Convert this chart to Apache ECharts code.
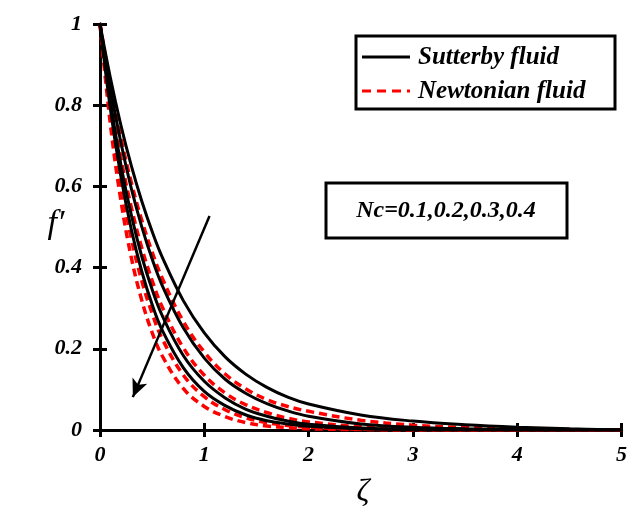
<!DOCTYPE html>
<html><head><meta charset="utf-8">
<script src="https://cdn.jsdelivr.net/npm/echarts@6/dist/echarts.min.js"></script>
<style>html,body{margin:0;padding:0;background:#fff}#c{width:630px;height:522px}</style>
</head><body><div id="c"></div>
<script>
const zeta = [0,0.1,0.2,0.3,0.4,0.5,0.6,0.8,1.0,1.2,1.4,1.6,1.8,2.0,2.5,3.0,3.5,4.0,4.5,5.0];
const sutterby1 = [1,0.867,0.751,0.651,0.564,0.489,0.424,0.318,0.239,0.180,0.137,0.105,0.081,0.064,0.037,0.022,0.013,0.007,0.003,0];
const sutterby2 = [1,0.841,0.708,0.595,0.501,0.421,0.354,0.251,0.177,0.125,0.090,0.065,0.047,0.034,0.015,0.007,0.003,0.001,0,0];
const sutterby3 = [1,0.809,0.654,0.530,0.428,0.346,0.280,0.183,0.120,0.079,0.051,0.034,0.022,0.014,0.005,0.002,0.001,0,0,0];
const sutterby4 = [1,0.790,0.625,0.494,0.391,0.309,0.244,0.153,0.095,0.060,0.037,0.023,0.015,0.009,0.003,0.001,0,0,0,0];
const newtonian1 = [1,0.848,0.719,0.610,0.517,0.438,0.372,0.267,0.192,0.138,0.101,0.075,0.058,0.046,0.024,0.012,0.006,0.003,0.001,0];
const newtonian2 = [1,0.819,0.670,0.549,0.449,0.368,0.301,0.202,0.135,0.091,0.062,0.043,0.029,0.020,0.008,0.003,0.001,0,0,0];
const newtonian3 = [1,0.779,0.607,0.472,0.368,0.287,0.223,0.135,0.082,0.050,0.030,0.018,0.011,0.007,0.002,0.001,0,0,0,0];
const newtonian4 = [1,0.752,0.566,0.425,0.320,0.240,0.181,0.102,0.058,0.033,0.018,0.010,0.006,0.003,0.001,0,0,0,0,0];
const xTicks = [0,1,2,3,4,5];
const yTicks = ['0','0.2','0.4','0.6','0.8','1'];
const legendNames = ['Sutterby fluid','Newtonian fluid'];
const annotation = 'Nc=0.1,0.2,0.3,0.4';
const arrowFrom = [1.05, 0.527];
const arrowTo = [0.315, 0.081];

const FONT = '"Liberation Serif","Times New Roman",serif';
const pair = (xs, ys) => xs.map((x, i) => [x, ys[i]]);
const sLine = (d) => ({type:'line', name:legendNames[0], data: pair(zeta, d), smooth: 0.4, showSymbol:false, symbol:'none',
  lineStyle:{color:'#000', width:3, type:'solid'}, itemStyle:{color:'#000'}, z:3});
const nLine = (d) => ({type:'line', name:legendNames[1], data: pair(zeta, d), smooth: 0.4, showSymbol:false, symbol:'none',
  lineStyle:{color:'#ff0000', width:3.5, type:[8,5]}, itemStyle:{color:'#ff0000'}, z:2});

const axisLbl = {fontFamily: FONT, fontWeight:'bold', fontStyle:'italic', fontSize:22, color:'#000'};
const chart = echarts.init(document.getElementById('c'));
chart.setOption({
  animation:false,
  backgroundColor:'#fff',
  grid:{left:100, right:3, top:24, bottom:92},
  xAxis:[
    {type:'value', min:0, max:5, interval:1, position:'bottom',
     axisLine:{show:true, lineStyle:{color:'#000', width:3}},
     axisTick:{show:true, inside:true, length:7, lineStyle:{width:3, color:'#000'}},
     axisLabel:{...axisLbl, margin:14, formatter:(v)=> xTicks.includes(v) ? String(v) : ''},
     splitLine:{show:false}},
    {type:'value', min:0, max:5, interval:1, position:'top',
     axisLine:{show:true, lineStyle:{color:'#000', width:3}},
     axisTick:{show:true, inside:true, length:7, lineStyle:{width:3, color:'#000'}},
     axisLabel:{show:false}, splitLine:{show:false}}
  ],
  yAxis:[
    {type:'value', min:0, max:1, interval:0.2, position:'left',
     axisLine:{show:true, lineStyle:{color:'#000', width:3}},
     axisTick:{show:true, inside:true, length:7, lineStyle:{width:3, color:'#000'}},
     axisLabel:{...axisLbl, margin:18, formatter:(v)=> yTicks[Math.round(v/0.2)]},
     splitLine:{show:false}},
    {type:'value', min:0, max:1, interval:0.2, position:'right',
     axisLine:{show:true, lineStyle:{color:'#000', width:3}},
     axisTick:{show:true, inside:true, length:7, lineStyle:{width:3, color:'#000'}},
     axisLabel:{show:false}, splitLine:{show:false}}
  ],
  graphic:[
    {type:'rect', shape:{x:356, y:36, width:259, height:73}, style:{fill:'#fff', stroke:'#000', lineWidth:3}, z:10},
    {type:'line', shape:{x1:362, y1:57, x2:410, y2:57}, style:{stroke:'#000', lineWidth:3}, z:11},
    {type:'line', shape:{x1:362, y1:91, x2:410, y2:91}, style:{stroke:'#ff0000', lineWidth:3, lineDash:[9,6]}, z:11},
    {type:'text', x:418, y:58, style:{text:legendNames[0], font:'italic bold 25px '+FONT, fill:'#000', align:'left', verticalAlign:'middle'}, z:11},
    {type:'text', x:418, y:92, style:{text:legendNames[1], font:'italic bold 25px '+FONT, fill:'#000', align:'left', verticalAlign:'middle'}, z:11},
    {type:'rect', shape:{x:326, y:183, width:241, height:55}, style:{fill:'#fff', stroke:'#000', lineWidth:3}, z:10},
    {type:'text', x:446, y:211, style:{text:annotation, font:'italic bold 24px '+FONT, fill:'#000', align:'center', verticalAlign:'middle'}, z:11},
    {type:'text', x:56, y:224, style:{text:'f\u2032', font:'italic 34px '+FONT, fill:'#000', align:'center', verticalAlign:'middle'}},
    {type:'text', x:363, y:493, style:{text:'\u03B6', font:'italic 32px '+FONT, fill:'#000', align:'center', verticalAlign:'middle'}}
  ],
  series:[
    sLine(sutterby1), sLine(sutterby2), sLine(sutterby3), sLine(sutterby4),
    nLine(newtonian1), nLine(newtonian2), nLine(newtonian3), nLine(newtonian4),
    {type:'line', data:[], silent:true,
     markLine:{silent:true, symbol:['none','arrow'], symbolSize:[12,18], label:{show:false},
       lineStyle:{color:'#000', width:2.5, type:'solid'},
       data:[[{coord:arrowFrom},{coord:arrowTo}]]}}
  ]
});
</script></body></html>
